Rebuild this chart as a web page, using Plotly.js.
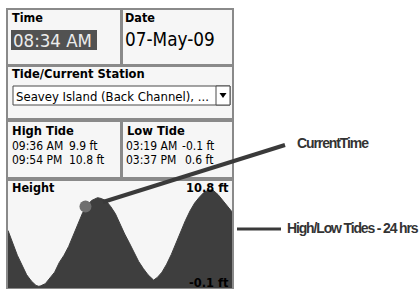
<!DOCTYPE html>
<html><head><meta charset="utf-8">
<script src="https://cdn.plot.ly/plotly-3.0.1.min.js"></script>
<style>html,body{margin:0;padding:0;background:#fff;}#chart{width:420px;height:289px;}</style>
</head><body><div id="chart"></div>
<script>
// Tide heights (ft), hours since midnight
const hours = [0,0.5,1,1.5,2,2.5,3,3.3,3.5,4,4.5,5,5.5,6,6.5,7,7.5,8,8.5,9,9.6,10,10.5,11,11.5,12,12.5,13,13.5,14,14.5,15,15.6,16,16.5,17,17.5,18,18.5,19,19.5,20,20.5,21,21.5,21.9,22.5,23,23.5,24];
const heights = [6.2,4.8,3.4,2.3,1.2,0.5,0.0,-0.1,-0.05,0.2,0.8,1.5,2.6,3.4,4.4,5.6,6.8,8.2,9.1,9.6,9.9,9.8,9.55,8.9,8.1,6.9,5.8,4.8,3.7,2.7,1.9,1.2,0.6,0.9,1.5,2.4,3.5,4.8,6.0,7.3,8.4,9.3,9.95,10.5,10.75,10.8,10.25,9.6,9.0,8.3];
const currentHour = [8.3];
const currentHeight = [8.9];

const timeText = "08:34 AM";
const dateText = "07-May-09";
const stationName = "Seavey Island (Back Channel), ...";
const highTimes = ["09:36 AM", "09:54 PM"];
const highHeights = ["9.9 ft", "10.8 ft"];
const lowTimes = ["03:19 AM", "03:37 PM"];
const lowHeights = ["-0.1 ft", "0.6 ft"];
const maxLabel = "10.8 ft";
const minLabel = "-0.1 ft";
const calloutCurrent = "CurrentTime";
const calloutRange = "High/Low Tides - 24 hrs";

const W = 420, H = 289;
const px = x => x / W;
const py = y => 1 - y / H;
const yRange = [-0.29, 11.78];

const UI = "DejaVu Sans Condensed, DejaVu Sans, sans-serif";
const CALL = "Liberation Sans, Arial, sans-serif";
const BOX_BG = "#f6f6f6", BORDER = "#8a8a8a", DARK = "#3e3e3e";

function box(x0, y0, x1, y1, layer, fill) {
  return {type: "rect", xref: "paper", yref: "paper", x0: px(x0), x1: px(x1), y0: py(y1), y1: py(y0),
    line: {color: BORDER, width: 2}, fillcolor: fill === undefined ? BOX_BG : fill, layer: layer || "below"};
}
function ann(text, x, y, size, opts) {
  opts = opts || {};
  return Object.assign({text: text, xref: "paper", yref: "paper", x: px(x), y: py(y), showarrow: false,
    xanchor: "left", yanchor: "middle", borderpad: 0,
    font: {family: UI, size: size, color: opts.color || "#000", weight: opts.bold ? "bold" : "normal"}}, opts.extra || {});
}

const shapes = [
  box(7, 9, 121, 65), box(122, 9, 233, 65), box(7, 66, 233, 119),
  box(7, 121, 121, 178), box(122, 121, 233, 178), box(7, 180, 233, 289),
  {type: "rect", xref: "paper", yref: "paper", x0: px(11), x1: px(97), y0: py(50), y1: py(30), fillcolor: "#525252", line: {width: 0}, layer: "below"},
  {type: "rect", xref: "paper", yref: "paper", x0: px(13), x1: px(230), y0: py(105), y1: py(86), fillcolor: "#fff", line: {color: "#4a4a4a", width: 1}, layer: "below"},
  {type: "rect", xref: "paper", yref: "paper", x0: px(216), x1: px(230), y0: py(105), y1: py(86), fillcolor: "#fff", line: {color: "#4a4a4a", width: 1}, layer: "below"},
  {type: "path", xref: "paper", yref: "paper", path: "M " + px(219.5) + "," + py(93) + " L " + px(226.5) + "," + py(93) + " L " + px(223) + "," + py(98) + " Z", fillcolor: "#000", line: {width: 0}, layer: "below"},
  box(7, 180, 233, 289, "above", "rgba(0,0,0,0)"),
  {type: "line", xref: "paper", yref: "paper", x0: px(103), y0: py(202), x1: px(285), y1: py(145), line: {color: "#3a3a3a", width: 4}, layer: "above"},
  {type: "line", xref: "paper", yref: "paper", x0: px(237), y0: py(229), x1: px(281), y1: py(229), line: {color: "#3a3a3a", width: 3}, layer: "above"}
];

const annotations = [
  ann("Time", 11, 17, 12.5, {bold: true}),
  ann(timeText, 12, 40, 18.5, {color: "#ececec"}),
  ann("Date", 124, 17, 12.5, {bold: true}),
  ann(dateText, 124, 39, 18.8),
  ann("Tide/Current Station", 11, 73, 12.8, {bold: true}),
  ann(stationName, 15, 96, 13),
  ann("High Tide", 11, 130, 12.8, {bold: true}),
  ann(highTimes[0], 11, 146, 12), ann(highHeights[0], 68, 146, 12),
  ann(highTimes[1], 11, 160, 12), ann(highHeights[1], 68, 160, 12),
  ann("Low Tide", 126, 130, 12.8, {bold: true}),
  ann(lowTimes[0], 125, 146, 12), ann(lowHeights[0], 181, 146, 12),
  ann(lowTimes[1], 125, 160, 12), ann(lowHeights[1], 184, 160, 12),
  ann("Height", 11, 187, 12.5, {bold: true}),
  ann(maxLabel, 230, 187, 12.7, {bold: true, extra: {xanchor: "right"}}),
  ann(minLabel, 230, 282, 12.7, {bold: true, extra: {xanchor: "right"}}),
  ann('<span style="letter-spacing:-1.1px">' + calloutCurrent + '</span>', 296, 143, 14,
      {extra: {font: {family: CALL, size: 14, color: "#333", weight: "bold"}}}),
  ann('<span style="letter-spacing:-1.15px">' + calloutRange + '</span>', 286, 228, 14,
      {extra: {font: {family: CALL, size: 14, color: "#333", weight: "bold"}}})
];

const traces = [
  {x: [hours[0], hours[hours.length - 1]], y: [yRange[0], yRange[0]], mode: "lines", line: {width: 0}, hoverinfo: "skip", showlegend: false},
  {x: hours, y: heights, mode: "lines", line: {color: DARK, width: 1}, fill: "tonexty", fillcolor: DARK, showlegend: false},
  {x: currentHour, y: currentHeight, mode: "markers", marker: {size: 12, color: "#6f6f6f"}, showlegend: false, cliponaxis: false}
];

const layout = {
  width: W, height: H, margin: {l: 0, r: 0, t: 0, b: 0},
  paper_bgcolor: "#fff", plot_bgcolor: "rgba(0,0,0,0)",
  showlegend: false,
  xaxis: {domain: [px(8), px(232)], range: [0, 24], visible: false, fixedrange: true},
  yaxis: {domain: [py(288), py(181)], range: yRange, visible: false, fixedrange: true},
  shapes: shapes, annotations: annotations
};
Plotly.newPlot("chart", traces, layout, {staticPlot: true, displayModeBar: false});
</script></body></html>
